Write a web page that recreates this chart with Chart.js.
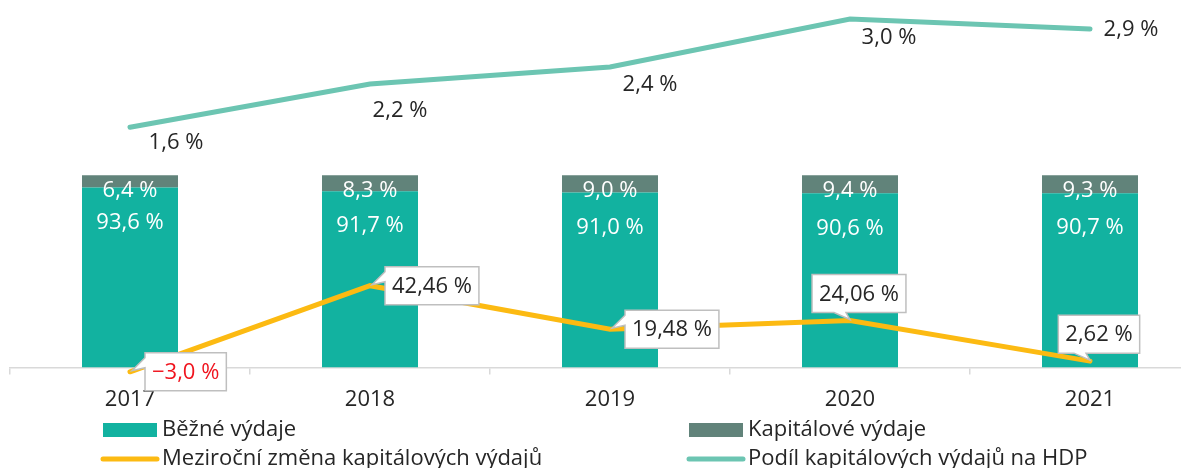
<!DOCTYPE html>
<html lang="cs">
<head>
<meta charset="utf-8">
<title>Výdaje</title>
<script src="https://cdn.jsdelivr.net/npm/chart.js@4/dist/chart.umd.min.js"></script>
<style>
  html, body { margin: 0; padding: 0; background: #fff; overflow: hidden; }
  #wrap { width: 1211px; height: 468px; }
</style>
</head>
<body>
<div id="wrap"><canvas id="chart"></canvas></div>
<script>
"use strict";

// values
const years = ['2017', '2018', '2019', '2020', '2021'];
const currentShare = [93.6, 91.7, 91.0, 90.6, 90.7];   // Běžné výdaje, % of total
const capitalShare = [6.4, 8.3, 9.0, 9.4, 9.3];        // Kapitálové výdaje, % of total
const capitalYoy = [-3.0, 42.46, 19.48, 24.06, 2.62];  // meziroční změna, %
const capitalGdp = [1.6, 2.16, 2.38, 3.0, 2.87];       // podíl na HDP, %

const FONT = '"Open Sans", "Noto Sans", sans-serif';
const TEXT = '#262626';

// number -> "42,46 %" (Czech decimal comma, real minus sign)
function fmt(v, decimals) {
    const s = Math.abs(v).toFixed(decimals).replace('.', ',');
    return (v < 0 ? '\u2212' : '') + s + ' %';
}

function decimalsOf(v) {
    const part = String(v).split('.')[1] || '';
    return Math.max(1, part.length);
}

// white box with a small pointer towards the point
function callout(ctx, px, py, text, side, color) {
    const w = ctx.measureText(text).width + 14;
    const h = 38;
    let left, top;
    ctx.beginPath();
    if (side === 'right') {
        left = px + 15;
        top = py - 19;
        ctx.moveTo(left, top);
        ctx.lineTo(left + w, top);
        ctx.lineTo(left + w, top + h);
        ctx.lineTo(left, top + h);
        ctx.lineTo(left, top + 15);
        ctx.lineTo(px + 2, py - 1);
        ctx.lineTo(left, top + 5);
    } else {
        left = px + 9 - w / 2;
        top = py - 8 - h;
        ctx.moveTo(left, top);
        ctx.lineTo(left + w, top);
        ctx.lineTo(left + w, top + h);
        ctx.lineTo(px - 4, top + h);
        ctx.lineTo(px, py - 1);
        ctx.lineTo(px - 16, top + h);
        ctx.lineTo(left, top + h);
    }
    ctx.closePath();
    ctx.fillStyle = '#fff';
    ctx.fill();
    ctx.lineWidth = 1.5;
    ctx.strokeStyle = '#bfbfbf';
    ctx.stroke();
    ctx.fillStyle = color;
    ctx.fillText(text, left + w / 2, top + h / 2 + 1);
}

const labelPlugin = {
    id: 'valueLabels',
    afterDatasetsDraw(chart, args, opts) {
        const ctx = chart.ctx;
        ctx.save();
        ctx.textAlign = 'center';
        ctx.textBaseline = 'middle';
        ctx.font = '22px ' + FONT;

        // labels inside the stacked bars, near the top of each segment
        const curMeta = chart.getDatasetMeta(0);
        const capMeta = chart.getDatasetMeta(1);
        capMeta.data.forEach((bar, i) => {
            ctx.fillStyle = '#fff';
            ctx.fillText(fmt(capitalShare[i], 1), bar.x, bar.y + 15);
            ctx.fillText(fmt(currentShare[i], 1), bar.x, curMeta.data[i].y + 35);
        });

        // share of GDP labels
        const gdpMeta = chart.getDatasetMeta(3);
        gdpMeta.data.forEach((pt, i) => {
            const off = opts.gdpOffsets[i];
            ctx.fillStyle = TEXT;
            ctx.fillText(fmt(capitalGdp[i], 1), pt.x + off[0], pt.y + off[1]);
        });

        // yoy change callouts
        const yoyMeta = chart.getDatasetMeta(2);
        yoyMeta.data.forEach((pt, i) => {
            const v = capitalYoy[i];
            callout(ctx, pt.x, pt.y, fmt(v, decimalsOf(v)), opts.yoySides[i],
                v < 0 ? '#f0141e' : TEXT);
        });
        ctx.restore();
    }
};

// legend in two columns under the axis
const legendPlugin = {
    id: 'twoColLegend',
    afterDraw(chart, args, opts) {
        const ctx = chart.ctx;
        ctx.save();
        ctx.font = '22px ' + FONT;
        ctx.textAlign = 'left';
        ctx.textBaseline = 'middle';
        chart.data.datasets.forEach((ds, i) => {
            const x = opts.cols[i % 2];
            const y = opts.rows[Math.floor(i / 2)];
            if (ds.type === 'line') {
                ctx.strokeStyle = ds.borderColor;
                ctx.lineWidth = 5;
                ctx.lineCap = 'round';
                ctx.beginPath();
                ctx.moveTo(x, y);
                ctx.lineTo(x + 54, y);
                ctx.stroke();
            } else {
                ctx.fillStyle = ds.backgroundColor;
                ctx.fillRect(x, y - 7, 54, 14);
            }
            ctx.fillStyle = TEXT;
            ctx.fillText(ds.label, x + 59, y);
        });
        ctx.restore();
    }
};

const data = {
    labels: years,
    datasets: [
        {
            type: 'bar',
            label: 'Běžné výdaje',
            data: currentShare,
            backgroundColor: '#12b2a0',
            yAxisID: 'yShare',
            stack: 'exp',
            order: 3
        },
        {
            type: 'bar',
            label: 'Kapitálové výdaje',
            data: capitalShare,
            backgroundColor: '#61837a',
            yAxisID: 'yShare',
            stack: 'exp',
            order: 3
        },
        {
            type: 'line',
            label: 'Meziroční změna kapitálových výdajů',
            data: capitalYoy,
            borderColor: '#fcba12',
            backgroundColor: '#fcba12',
            borderWidth: 5,
            borderCapStyle: 'round',
            pointRadius: 0,
            tension: 0,
            clip: false,
            yAxisID: 'yYoy',
            order: 1
        },
        {
            type: 'line',
            label: 'Podíl kapitálových výdajů na HDP',
            data: capitalGdp,
            borderColor: '#6cc5b2',
            backgroundColor: '#6cc5b2',
            borderWidth: 5,
            borderCapStyle: 'round',
            pointRadius: 0,
            tension: 0,
            clip: false,
            yAxisID: 'yGdp',
            order: 1
        }
    ]
};

const config = {
    type: 'bar',
    data: data,
    plugins: [labelPlugin, legendPlugin],
    options: {
        responsive: true,
        maintainAspectRatio: false,
        animation: false,
        layout: { padding: { left: 10, right: 1, top: 10, bottom: 43 } },
        datasets: { bar: { categoryPercentage: 1, barPercentage: 0.4 } },
        plugins: {
            legend: { display: false },
            tooltip: { enabled: false },
            valueLabels: {
                gdpOffsets: [[46, 15], [30, 27], [40, 18], [39, 19], [41, 1]],
                yoySides: ['right', 'right', 'right', 'above', 'above']
            },
            twoColLegend: { cols: [103, 689], rows: [430, 459] }
        },
        scales: {
            x: {
                stacked: true,
                offset: true,
                border: { display: true, color: '#d9d9d9', width: 1.5 },
                grid: {
                    offset: true,
                    drawOnChartArea: false,
                    drawTicks: true,
                    tickLength: 7,
                    color: '#d9d9d9',
                    lineWidth: 1.5
                },
                ticks: { color: TEXT, padding: 12, font: { family: FONT, size: 22 } }
            },
            yShare: { stacked: true, display: false, min: 0, max: 185.9 },
            yGdp: { display: false, min: -1.51, max: 3.117 },
            yYoy: { display: false, min: -0.79, max: 188 }
        }
    }
};

new Chart(document.getElementById('chart').getContext('2d'), config);
</script>
</body>
</html>
